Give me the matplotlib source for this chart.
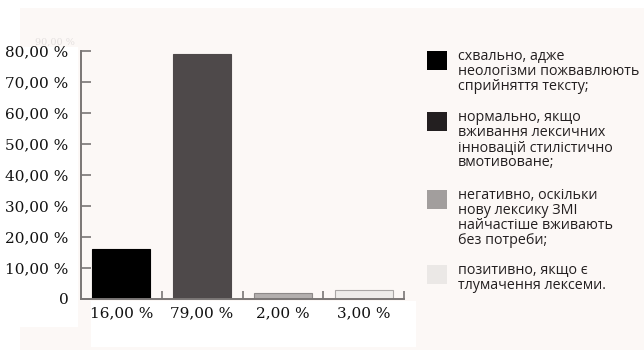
import matplotlib
matplotlib.use("Agg")
import matplotlib.pyplot as plt
from matplotlib.patches import Rectangle

# survey answers, share of respondents (%)
categories = ["схвально", "нормально", "негативно", "позитивно"]
values = [16.0, 79.0, 2.0, 3.0]
value_labels = ["16,00 %", "79,00 %", "2,00 %", "3,00 %"]
y_ticks = [0, 10, 20, 30, 40, 50, 60, 70, 80]
y_tick_labels = ["0", "10,00 %", "20,00 %", "30,00 %", "40,00 %",
                 "50,00 %", "60,00 %", "70,00 %", "80,00 %"]
legend_labels = [
    "схвально, адже\nнеологізми пожвавлюють\nсприйняття тексту;",
    "нормально, якщо\nвживання лексичних\nінновацій стилістично\nвмотивоване;",
    "негативно, оскільки\nнову лексику ЗМІ\nнайчастіше вживають\nбез потреби;",
    "позитивно, якщо є\nтлумачення лексеми.",
]

bar_colors = ["#000000", "#4e494a", "#b3afae", "#eeecea"]
bar_edges = ["#000000", "#4e494a", "#8d8988", "#a9a6a5"]
swatch_colors = ["#000000", "#231f20", "#a29e9d", "#ebe8e6"]

W, H = 644, 352
fig = plt.figure(figsize=(W / 100, H / 100), dpi=100)
fig.patch.set_facecolor("white")


def px_rect(x0, y0, x1, y1, color, z):
    # rectangle given in pixel coords (origin top-left)
    fig.patches.append(Rectangle((x0 / W, 1 - y1 / H), (x1 - x0) / W, (y1 - y0) / H,
                                 transform=fig.transFigure, facecolor=color,
                                 edgecolor="none", zorder=z))


# page background and the white label strips
px_rect(20, 8, W, 350, "#fcf8f6", -3)
fig.text(35 / W, 1 - 42 / H, "90,00 %", fontsize=7, family="DejaVu Serif",
         color="#e4e0df", va="center", zorder=-2.5)
px_rect(0, 47, 78, 327, "white", -2)
px_rect(91, 301, 416, 347, "white", -2)

ax = fig.add_axes([81 / W, 1 - 299 / H, 323 / W, 248 / H])
ax.set_zorder(1)
ax.patch.set_alpha(0)

x = list(range(len(values)))
ax.bar(x, values, width=0.72, color=bar_colors, edgecolor=bar_edges, linewidth=0.8)
ax.set_xlim(-0.5, len(values) - 0.5)
ax.set_ylim(0, 80)

for s in ["top", "right"]:
    ax.spines[s].set_visible(False)
for s in ["left", "bottom"]:
    ax.spines[s].set_color("#7a7675")
    ax.spines[s].set_linewidth(1.4)

serif = "DejaVu Serif"
ax.set_yticks(y_ticks)
ax.set_yticklabels(y_tick_labels, family=serif, fontsize=11, color="#111111")
ax.tick_params(axis="y", direction="in", length=7, width=1.2, color="#7a7675", pad=9)

ax.set_xticks(x)
ax.set_xticklabels(value_labels, family=serif, fontsize=11, color="#111111")
ax.tick_params(axis="x", which="major", length=0, pad=5)
ax.set_xticks([i + 0.5 for i in x], minor=True)
ax.tick_params(axis="x", which="minor", direction="in", length=6, width=1.2,
               color="#7a7675")

# legend drawn by hand: swatch squares with wrapped captions, one line at a time
swatch_tops = [51, 112, 190, 265]
line_step = 15
for top, color, label in zip(swatch_tops, swatch_colors, legend_labels):
    px_rect(427, top, 447, top + 19, color, 2)
    for i, line in enumerate(label.split("\n")):
        base = top + 9 + i * line_step
        fig.text(458 / W, 1 - base / H, line, fontsize=10.3, family="Open Sans",
                 color="#231f20", va="baseline", ha="left")

fig.savefig("out.png", dpi=100)
